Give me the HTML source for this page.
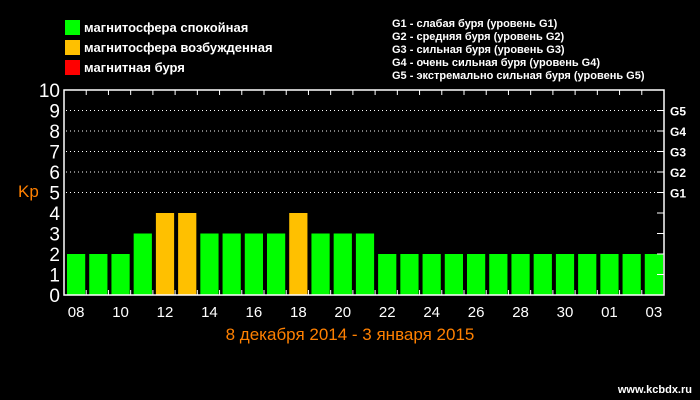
<!DOCTYPE html>
<html><head><meta charset="utf-8"><style>
body{margin:0;background:#000;}
svg{display:block;font-family:"Liberation Sans","DejaVu Sans",sans-serif;}
</style></head><body>
<svg id="chart" width="700" height="400" viewBox="0 0 700 400">
<g>
<rect x="65" y="20" width="15" height="15" fill="#00ff00"/>
<text x="84" y="32" fill="#fff" font-size="13" font-weight="bold">магнитосфера спокойная</text>
<rect x="65" y="40" width="15" height="15" fill="#ffc000"/>
<text x="84" y="52" fill="#fff" font-size="13" font-weight="bold">магнитосфера возбужденная</text>
<rect x="65" y="60" width="15" height="15" fill="#ff0000"/>
<text x="84" y="72" fill="#fff" font-size="13" font-weight="bold">магнитная буря</text>
</g>
<g fill="#fff" font-size="11" font-weight="bold">
<text x="392" y="27">G1 - слабая буря (уровень G1)</text>
<text x="392" y="40">G2 - средняя буря (уровень G2)</text>
<text x="392" y="53">G3 - сильная буря (уровень G3)</text>
<text x="392" y="66">G4 - очень сильная буря (уровень G4)</text>
<text x="392" y="79">G5 - экстремально сильная буря (уровень G5)</text>
</g>
<g id="grid"></g>
<g id="bars"></g>
<g id="axes"></g>
<text x="18" y="197" fill="#ff8000" font-size="17">Kp</text>
<text x="350" y="340" fill="#ff8000" font-size="17" text-anchor="middle">8 декабря 2014 - 3 января 2015</text>
<text x="692" y="393" fill="#fff" font-size="11" font-weight="bold" text-anchor="end">www.kcbdx.ru</text>
</svg>
<script>
const days = ["08","09","10","11","12","13","14","15","16","17","18","19","20","21","22","23","24","25","26","27","28","29","30","31","01","02","03"];
const kpValues = [2,2,2,3,4,4,3,3,3,3,4,3,3,3,2,2,2,2,2,2,2,2,2,2,2,2,2];
const yTicks = [0,1,2,3,4,5,6,7,8,9,10];
const gLevels = ["G1","G2","G3","G4","G5"];
const NS="http://www.w3.org/2000/svg";
const L=64,R=664,T=90,B=295;
const step=(R-L)/days.length;
const y=v=>B-(v/10)*(B-T);
const x=i=>L+i*step;
function mk(tag,attrs,parent){const e=document.createElementNS(NS,tag);for(const k in attrs)e.setAttribute(k,attrs[k]);parent.appendChild(e);return e;}
const grid=document.getElementById('grid'),bars=document.getElementById('bars'),axes=document.getElementById('axes');
for(let v=5;v<=9;v++){
  const l=mk('line',{x1:L+2,x2:R-2,y1:y(v),y2:y(v),stroke:'#fff','stroke-dasharray':'1 3'},grid);
  
  
}
kpValues.forEach((v,i)=>{
  const c=v>=5?'#ff0000':(v>=4?'#ffc000':'#00ff00');
  const r=mk('rect',{x:x(i)+3,y:y(v),width:step-4,height:B-y(v),fill:c},bars);
  
  
});
const frame=mk('rect',{x:L,y:T,width:R-L,height:B-T,fill:'none',stroke:'#fff','stroke-width':1.5},axes);


yTicks.forEach(v=>{
  const t=mk('text',{x:L-4,y:y(v)+7,fill:'#fff','font-size':19,'text-anchor':'end'},axes);
  t.textContent=v;
  
  
  const tk=mk('line',{x1:R-7,x2:R,y1:y(v),y2:y(v),stroke:'#fff'},axes);
  
  
});
gLevels.forEach((g,i)=>{
  const t=mk('text',{x:R+6,y:y(5+i)+5,fill:'#fff','font-size':12,'font-weight':'bold'},axes);
  t.textContent=g;
  
  
});
for(let i=1;i<days.length;i++){
  const a=mk('line',{x1:x(i),x2:x(i),y1:T,y2:T+5,stroke:'#fff'},axes);
  
  
  const b=mk('line',{x1:x(i),x2:x(i),y1:B-5,y2:B,stroke:'#fff'},axes);
  
  
}
days.forEach((d,i)=>{
  if(i%2)return;
  const t=mk('text',{x:x(i)+step/2+1,y:B+22,fill:'#fff','font-size':15,'text-anchor':'middle'},axes);
  t.textContent=d;
  
  
});
</script>
</body></html>
